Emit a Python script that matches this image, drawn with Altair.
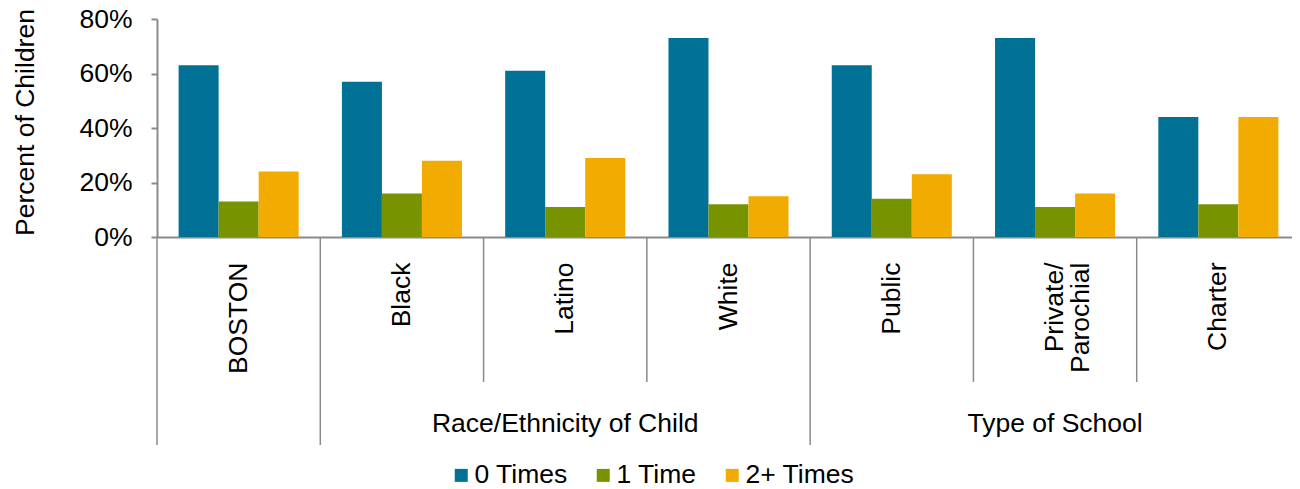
import altair as alt
import pandas as pd

categories = ["BOSTON", "Black", "Latino", "White", "Public", "Private/Parochial", "Charter"]
series = ["0 Times", "1 Time", "2+ Times"]
zero_times = [63, 57, 61, 73, 63, 73, 44]
one_time = [13, 16, 11, 12, 14, 11, 12]
two_plus = [24, 28, 29, 15, 23, 16, 44]
colors = ["#027196", "#779400", "#F2AB00"]

group_titles = ["Race/Ethnicity of Child", "Type of School"]
group_centers = ["Latino", "Private/Parochial"]
long_dividers = ["BOSTON", "Black", "Public"]
short_dividers = ["Latino", "White", "Private/Parochial", "Charter"]

rows = []
for i, c in enumerate(categories):
    for s, vals in zip(series, [zero_times, one_time, two_plus]):
        rows.append({"category": c, "series": s, "value": vals[i] / 100})
df = pd.DataFrame(rows)
df_groups = pd.DataFrame({"category": group_centers, "title": group_titles})
df_long = pd.DataFrame({"category": long_dividers})
df_short = pd.DataFrame({"category": short_dividers})

W = 1143
H = 218
GRAY = "#8a8a8a"
FS = 26.5

x_scale = alt.Scale(domain=categories, paddingInner=0, paddingOuter=0)
x_axis = alt.Axis(
    title=None,
    labelAngle=270,
    labelAlign="right",
    labelBaseline="middle",
    labelFontSize=FS,
    labelColor="#000000",
    labelPadding=25,
    labelLineHeight=26,
    ticks=False,
    domainColor=GRAY,
    domainWidth=2,
    labelExpr="datum.value == 'Private/Parochial' ? ['Private/', 'Parochial'] : datum.label",
)

bars = alt.Chart(df).mark_bar().encode(
    x=alt.X("category:N", scale=x_scale, axis=x_axis),
    xOffset=alt.XOffset("series:N", scale=alt.Scale(domain=series, paddingInner=0, paddingOuter=0.54)),
    y=alt.Y(
        "value:Q",
        scale=alt.Scale(domain=[0, 0.8]),
        axis=alt.Axis(
            title="Percent of Children",
            values=[0, 0.2, 0.4, 0.6, 0.8],
            format=".0%",
            grid=False,
            tickSize=6,
            tickWidth=2,
            tickColor=GRAY,
            domainColor=GRAY,
            domainWidth=2,
            labelFontSize=FS,
            labelColor="#000000",
            labelPadding=19,
            titleFontSize=FS,
            titleFontWeight="normal",
            titleColor="#000000",
            titleAngle=270,
            titleAlign="center",
            titleBaseline="alphabetic",
            titleX=-124,
            titleY=103,
        ),
    ),
    color=alt.Color(
        "series:N",
        scale=alt.Scale(domain=series, range=colors),
        legend=alt.Legend(
            title=None,
            orient="none",
            direction="horizontal",
            legendX=291,
            legendY=443,
            symbolType="square",
            symbolSize=169,
            symbolStrokeWidth=0,
            labelFontSize=FS,
            labelColor="#000000",
            labelOffset=0,
            columnPadding=22,
            padding=0,
        ),
    ),
)

long_rules = alt.Chart(df_long).mark_rule(color=GRAY, strokeWidth=1.5).encode(
    x=alt.X("category:N", bandPosition=0, scale=x_scale, axis=x_axis),
    y=alt.value(H),
    y2=alt.value(H + 208),
)

short_rules = alt.Chart(df_short).mark_rule(color=GRAY, strokeWidth=1.5).encode(
    x=alt.X("category:N", bandPosition=0, scale=x_scale, axis=x_axis),
    y=alt.value(H),
    y2=alt.value(H + 145),
)

group_text = alt.Chart(df_groups).mark_text(fontSize=FS, baseline="middle", align="center", color="#000000").encode(
    x=alt.X("category:N", scale=x_scale, axis=x_axis),
    y=alt.value(H + 187),
    text="title:N",
)

chart = alt.layer(bars, short_rules, long_rules, group_text).properties(
    width=W,
    height=H,
    autosize=alt.AutoSizeParams(type="none"),
    padding={"left": 149, "top": 11, "right": -8, "bottom": 248},
).configure(
    font="Liberation Sans",
).configure_view(
    stroke=None,
)

chart.save("out.html", embed_options={"renderer": "svg", "actions": False})
